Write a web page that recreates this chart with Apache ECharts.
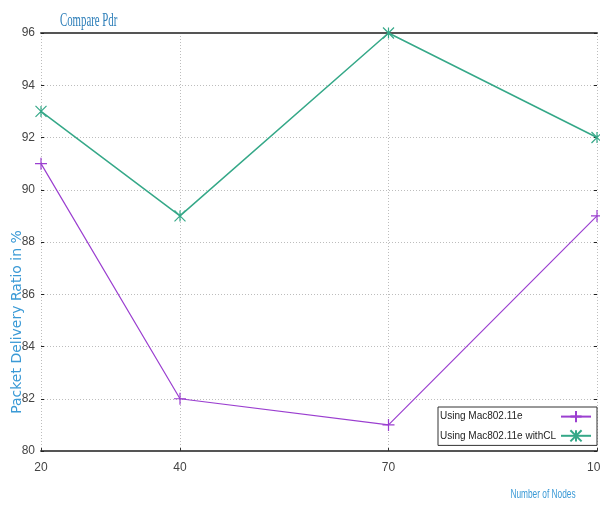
<!DOCTYPE html>
<html>
<head>
<meta charset="utf-8">
<script src="https://cdn.jsdelivr.net/npm/echarts@6/dist/echarts.min.js"></script>
<style>
  html, body { margin: 0; padding: 0; background: #fff; }
  #chart { width: 600px; height: 507px; }
</style>
</head>
<body>
<div id="chart"></div>
<script>
// Number of nodes on the x axis (linear scale, ticks only at these values)
const nodeCounts = [20, 40, 70, 100];
// Packet delivery ratio (%) for each protocol variant
const pdrMac80211e = [91, 82, 81, 89];
const pdrMac80211eCL = [93, 89, 96, 92];
// Tick values on the y axis
const yTicks = [80, 82, 84, 86, 88, 90, 92, 94, 96];

const seriesNames = ['Using Mac802.11e', 'Using Mac802.11e withCL'];
const labelFont = '"Liberation Sans", Arial, sans-serif';

const plusIcon = 'path://M0,6L12,6M6,0L6,12';
const crossIcon = 'path://M0,0L12,12M12,0L0,12M6,0L6,12';

const pairs = (ys) => nodeCounts.map((x, i) => [x, ys[i]]);

const chart = echarts.init(document.getElementById('chart'), null, { renderer: 'canvas' });

const gridLine = { show: true, lineStyle: { color: '#bdbdbd', type: [1, 2], width: 1 } };

chart.setOption({
  backgroundColor: '#ffffff',
  animation: false,
  grid: { left: 41, right: 3, top: 33, bottom: 56, containLabel: false, outerBoundsMode: 'none' },
  xAxis: [{
    type: 'value', min: 20, max: 100, position: 'bottom',
    axisLine: { show: true, lineStyle: { color: '#555', width: 2 } },
    axisTick: { show: true, inside: true, length: 3, customValues: nodeCounts, lineStyle: { color: '#333' } },
    axisLabel: { customValues: nodeCounts, color: '#444', fontFamily: labelFont, fontSize: 12, margin: 11 },
    splitLine: gridLine
  }, {
    type: 'value', min: 20, max: 100, position: 'top',
    axisLine: { show: true, lineStyle: { color: '#555', width: 2 } },
    axisTick: { show: false }, axisLabel: { show: false }, splitLine: { show: false }
  }],
  yAxis: [{
    type: 'value', min: yTicks[0], max: yTicks[yTicks.length - 1], interval: 2,
    axisLine: { show: false },
    axisTick: { show: true, inside: true, length: 3, lineStyle: { color: '#222' } },
    axisLabel: { color: '#444', fontFamily: labelFont, fontSize: 12, margin: 6 },
    splitLine: gridLine
  }, {
    type: 'value', min: yTicks[0], max: yTicks[yTicks.length - 1], interval: 2, position: 'right',
    axisLine: { show: false },
    axisTick: { show: true, inside: true, length: 3, lineStyle: { color: '#222' } },
    axisLabel: { show: false }, splitLine: { show: false }
  }],
  legend: {
    orient: 'vertical', align: 'right',
    left: 438, top: 407,
    padding: [3, 5, 3, 2],
    itemGap: 6, itemWidth: 30, itemHeight: 14,
    backgroundColor: '#fff', borderColor: '#333', borderWidth: 1,
    formatter: (name) => '{t|' + name + '}',
    textStyle: {
      fontFamily: labelFont, fontSize: 10, color: '#222',
      rich: { t: { width: 116, align: 'left', fontFamily: labelFont, fontSize: 10, color: '#222' } }
    },
    data: seriesNames
  },
  graphic: [
    { type: 'text', left: 60, top: 12, scaleX: 0.6,
      style: { text: 'Compare Pdr', font: '18px "Liberation Serif", serif', fill: '#2b7db8' } },
    { type: 'text', x: 17, y: 322, rotation: Math.PI / 2,
      style: { text: 'Packet Delivery Ratio in %', font: '14px "DejaVu Sans", sans-serif', fill: '#3b9ad6',
               align: 'center', verticalAlign: 'middle' } },
    { type: 'text', x: 543, y: 494, scaleX: 0.64,
      style: { text: 'Number of Nodes', font: '13px "Liberation Sans", sans-serif', fill: '#3b9ad6',
               align: 'center', verticalAlign: 'middle' } }
  ],
  series: [{
    name: seriesNames[0], type: 'line', data: pairs(pdrMac80211e),
    symbol: plusIcon, symbolSize: 12,
    lineStyle: { color: '#9b3fd0', width: 1.2 },
    itemStyle: { color: '#9b3fd0', borderColor: '#9b3fd0', borderWidth: 1.2 }
  }, {
    name: seriesNames[1], type: 'line', data: pairs(pdrMac80211eCL),
    symbol: crossIcon, symbolSize: 11,
    lineStyle: { color: '#35a888', width: 1.5 },
    itemStyle: { color: '#35a888', borderColor: '#35a888', borderWidth: 1.2 }
  }]
});
</script>
</body>
</html>
